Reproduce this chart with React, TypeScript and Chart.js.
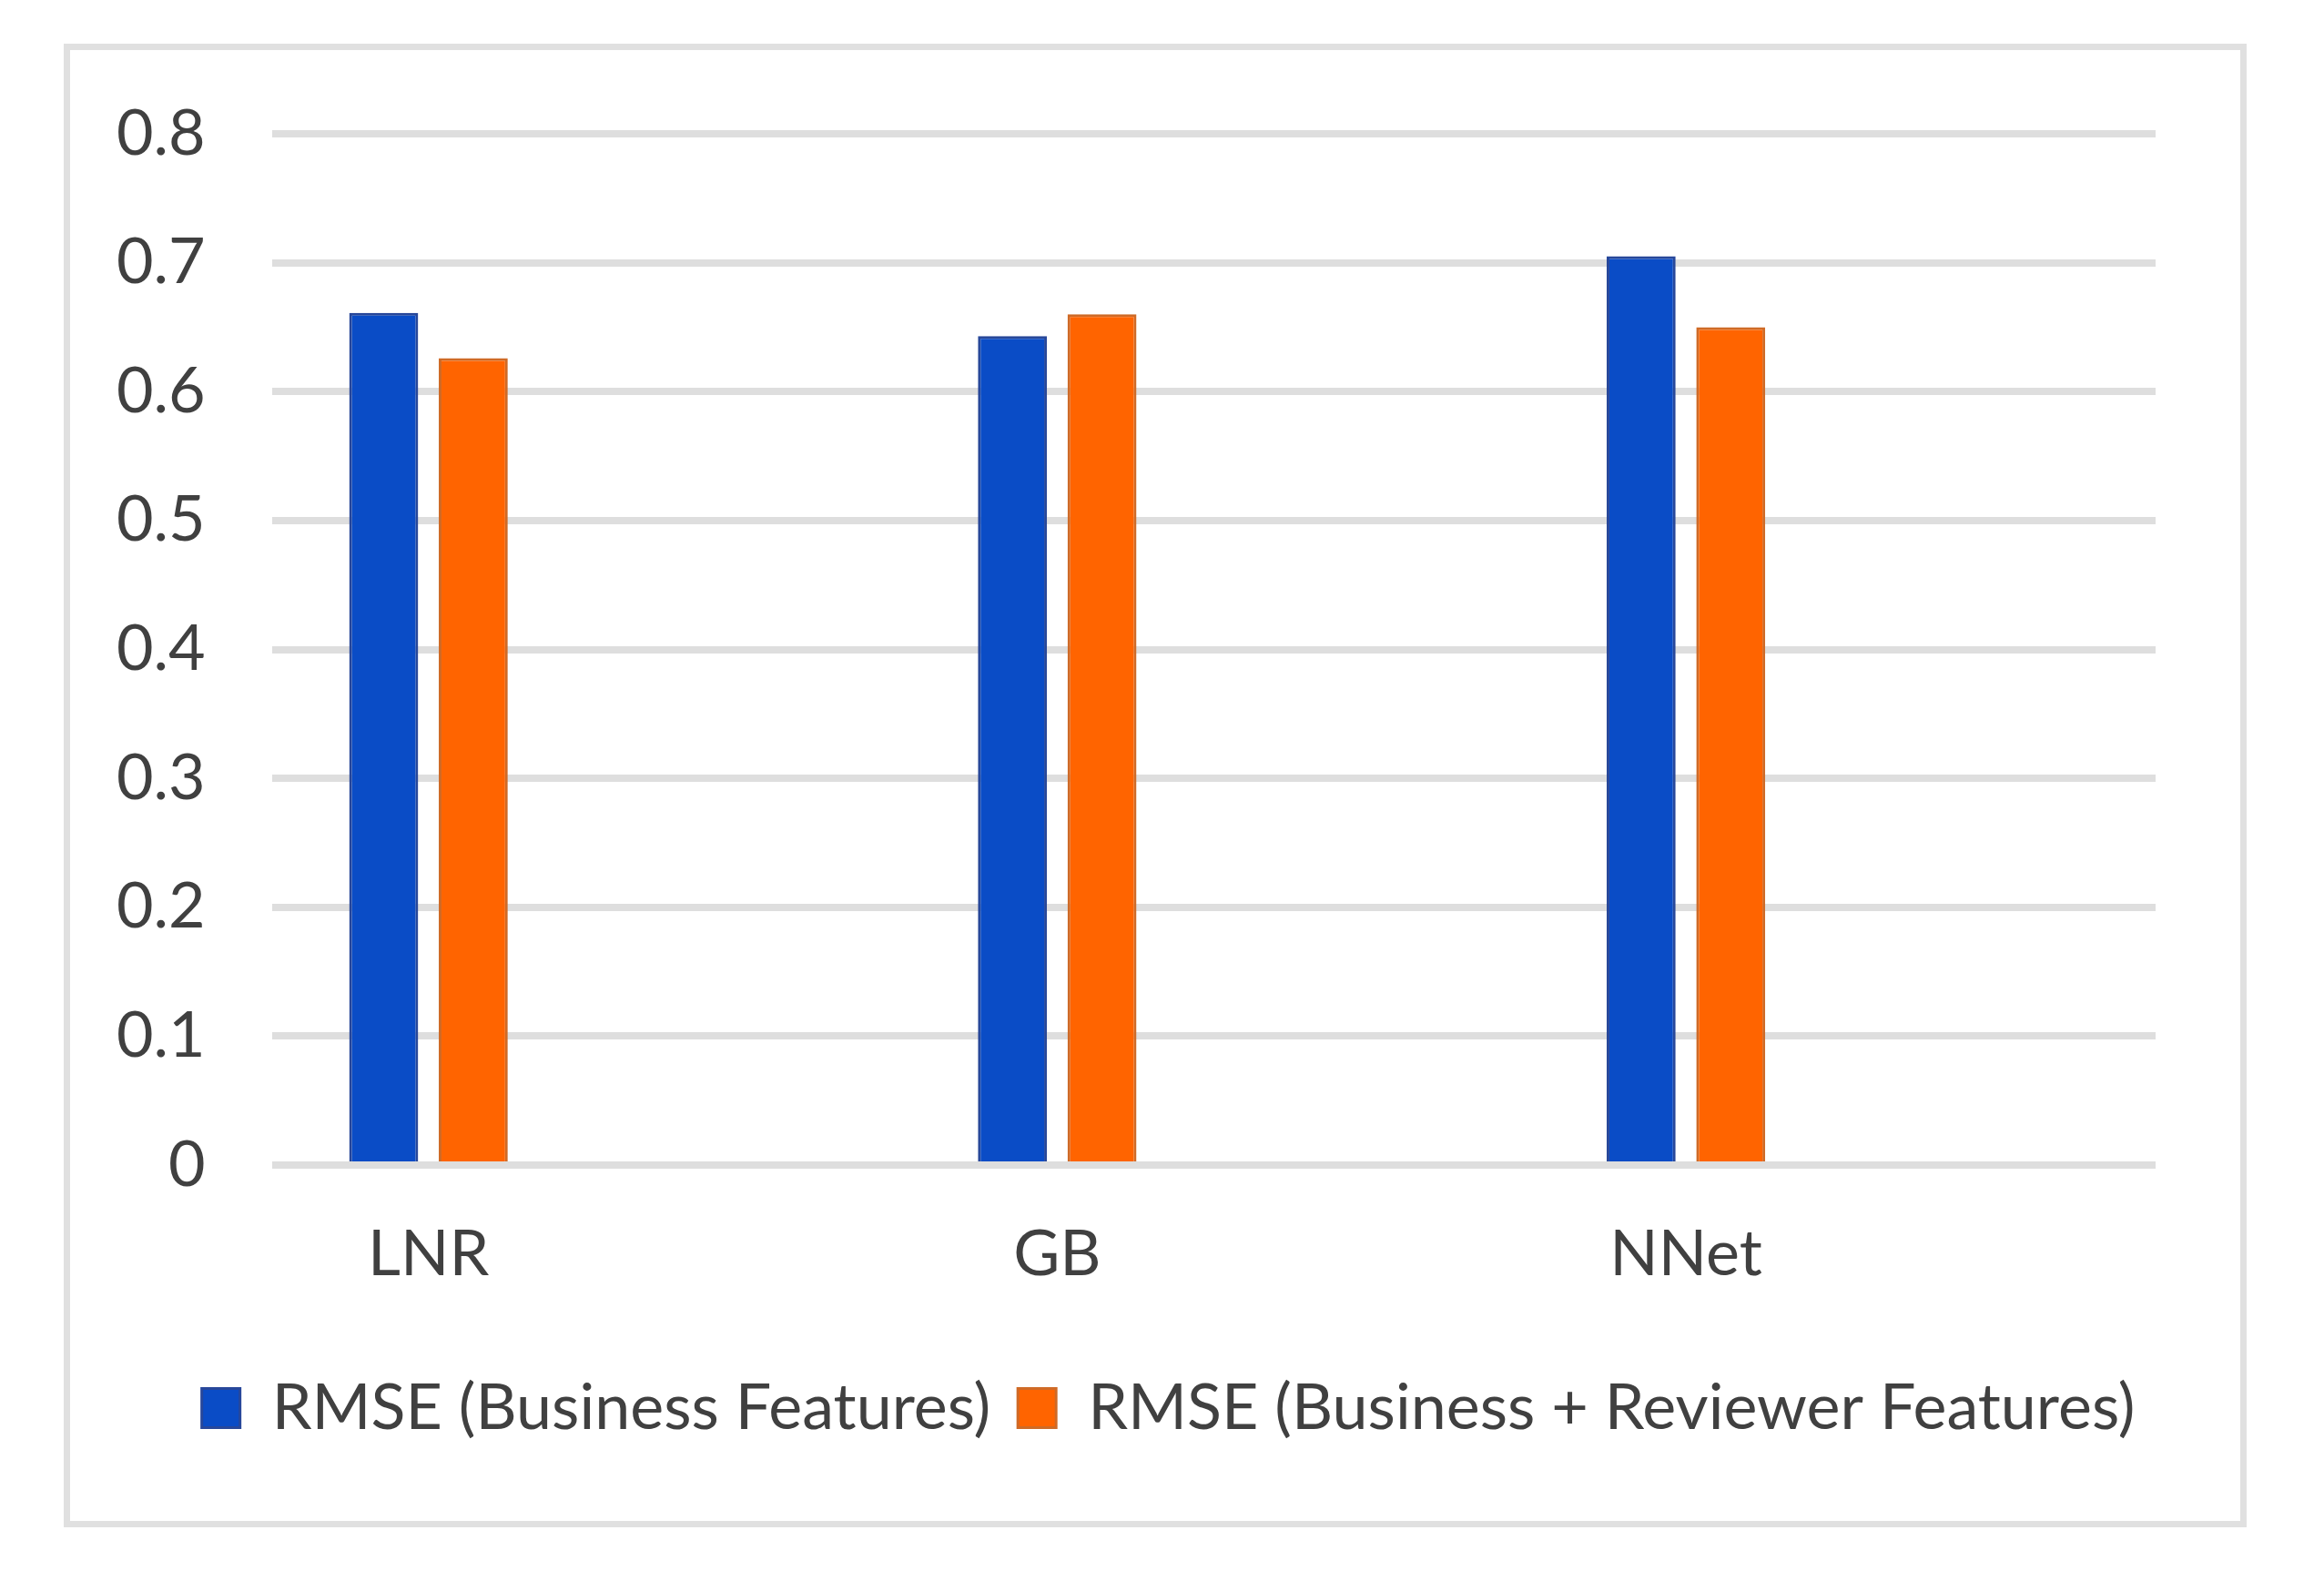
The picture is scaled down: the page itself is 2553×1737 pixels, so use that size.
// @ts-nocheck
import { useEffect, useRef } from "react";
import { Chart, registerables } from "chart.js";
Chart.register(...registerables);

const categories = ["LNR", "GB", "NNet"];
const businessRmse = [0.661, 0.643, 0.705];
const reviewerRmse = [0.626, 0.66, 0.65];
const yTicks = [0, 0.1, 0.2, 0.3, 0.4, 0.5, 0.6, 0.7, 0.8];
const seriesNames = ["RMSE (Business Features)", "RMSE (Business + Reviewer Features)"];

const FONT = "Lato, 'Open Sans', sans-serif";
const TEXT = "#404040";
const LEGEND_SHIFT = 72; // legend sits a bit right of the plot centre in the original

export default function App() {
    const chartRef = useRef(null);
    const chartInstance = useRef(null);

    useEffect(() => {
        const ctx = chartRef.current?.getContext("2d");
        chartInstance.current = new Chart(ctx, {
            type: "bar",
            data: {
                datasets: [
                    {
                        label: seriesNames[0],
                        data: businessRmse.map((v, i) => ({ x: i, y: v })),
                        backgroundColor: "#0a4cc6",
                        borderColor: "#27479a",
                        borderWidth: 3,
                        borderSkipped: "bottom",
                    },
                    {
                        label: seriesNames[1],
                        data: reviewerRmse.map((v, i) => ({ x: i, y: v })),
                        backgroundColor: "#ff6400",
                        borderColor: "#cf6a26",
                        borderWidth: 3,
                        borderSkipped: "bottom",
                    },
                ],
            },
            options: {
                animation: false,
                responsive: false,
                devicePixelRatio: 1,
                categoryPercentage: 0.285,
                barPercentage: 0.77,
                layout: {
                    padding: { left: 55, right: 185, top: 147, bottom: 145 },
                },
                plugins: {
                    tooltip: { enabled: false },
                    legend: {
                        position: "bottom",
                        labels: {
                            boxWidth: 42,
                            boxHeight: 43,
                            padding: 30,
                            color: TEXT,
                            font: { family: FONT, size: 70 },
                        },
                    },
                },
                scales: {
                    x: {
                        type: "linear",
                        min: -0.249,
                        max: 2.747,
                        offset: false,
                        grid: { display: false, drawTicks: false },
                        border: { display: false },
                        afterBuildTicks: (scale) => {
                            scale.ticks = categories.map((_, i) => ({ value: i }));
                        },
                        afterFit: (scale) => {
                            scale.paddingLeft = 0;
                            scale.paddingRight = 0;
                            scale.height += 6;
                        },
                        ticks: {
                            padding: 56,
                            color: TEXT,
                            font: { family: FONT, size: 70 },
                            callback: (v) => categories[v] ?? "",
                        },
                    },
                    y: {
                        min: 0,
                        max: 0.8,
                        afterBuildTicks: (scale) => {
                            scale.ticks = yTicks.map((v) => ({ value: v }));
                        },
                        grid: { color: "#dedede", lineWidth: 8, drawTicks: false },
                        border: { display: false },
                        ticks: {
                            padding: 73,
                            color: TEXT,
                            font: { family: FONT, size: 70 },
                            callback: (v) => String(Math.round(v * 10) / 10),
                        },
                    },
                },
            },
            plugins: [
                {
                    id: "legendShift",
                    afterLayout: (chart) => {
                        if (chart.legend) {
                            chart.legend.left += LEGEND_SHIFT;
                            chart.legend.right += LEGEND_SHIFT;
                        }
                    },
                },
            ],
        });

        return () => {
            chartInstance.current?.destroy();
        };
    }, []);

    return (
        <div style={{ position: "absolute", left: 0, top: 0, width: 2553, height: 1737, background: "#fff" }}>
            <div
                style={{
                    position: "absolute",
                    left: 70,
                    top: 48,
                    width: 2398,
                    height: 1630,
                    boxSizing: "border-box",
                    border: "7px solid #e0e0e0",
                }}
            />
            <canvas ref={chartRef} width={2553} height={1737} style={{ position: "absolute", left: 0, top: 0 }} />
        </div>
    );
}
